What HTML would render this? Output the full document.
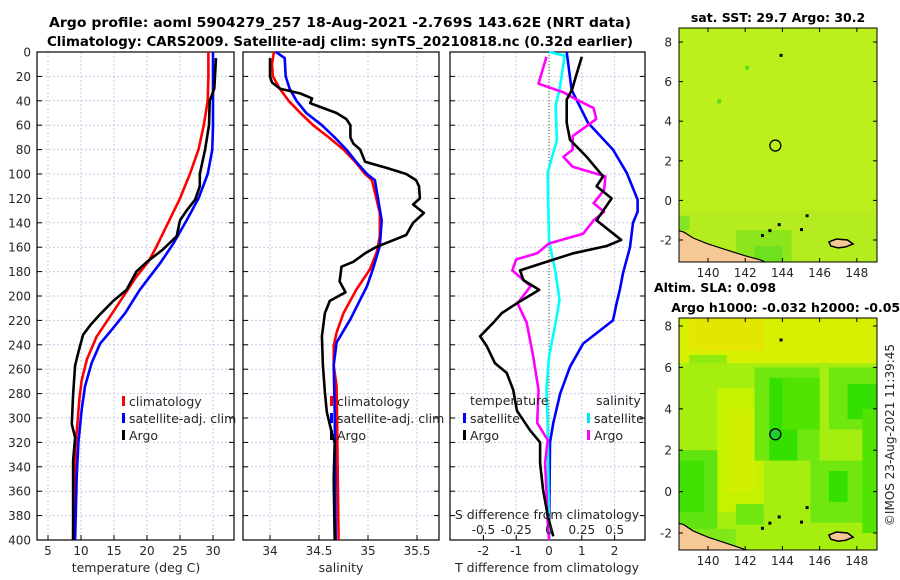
<!DOCTYPE html>
<html><head><meta charset="utf-8"><style>
html,body{margin:0;padding:0;background:#fff;}
svg{display:block;font-family:"DejaVu Sans","Liberation Sans",sans-serif;}
</style></head><body>
<svg id="fig" width="900" height="580" viewBox="0 0 900 580" xmlns="http://www.w3.org/2000/svg">
<g font-weight="bold" font-size="13" fill="#000" text-anchor="middle">
<text x="340" y="27" textLength="582" lengthAdjust="spacingAndGlyphs">Argo profile: aoml 5904279_257 18-Aug-2021 -2.769S 143.62E (NRT data)</text>
<text x="340" y="46" textLength="586" lengthAdjust="spacingAndGlyphs">Climatology: CARS2009. Satellite-adj clim: synTS_20210818.nc (0.32d earlier)</text>
</g>
<g id="panels"></g>
<g id="maps"></g>
<text x="894" y="435" transform="rotate(-90 894 435)" text-anchor="middle" font-size="12" fill="#262626">©IMOS 23-Aug-2021 11:39:45</text>
</svg>
<script>
// ---------- data ----------
const depthTicks = [0,20,40,60,80,100,120,140,160,180,200,220,240,260,280,300,320,340,360,380,400];
const tempTicks = [5,10,15,20,25,30];
const salTicks = [34,34.5,35,35.5];
const salTickLabels = ["34","34.5","35","35.5"];
const tdiffTicks = [-2,-1,0,1,2];
const sdiffTicks = [-0.5,-0.25,0,0.25,0.5];
const sdiffTickLabels = ["-0.5","-0.25","0","0.25","0.5"];

const tClimDepth = [0,20,40,60,80,100,120,140,160,172,184,198,217,233,252,269,285,302,321,351,400];
const tClim = [29.3,29.3,29.2,28.6,27.8,26.5,25.0,23.2,21.4,20.2,18.4,16.7,14.4,12.4,10.9,10.1,9.75,9.5,9.2,9.0,8.8];
const tSatDepth = [0,20,40,60,80,100,120,138,157,173,195,214,228,239,255,274,293,320,348,400];
const tSat = [30.0,30.0,30.0,30.0,29.9,29.2,27.8,26.0,24.0,22.0,18.9,16.7,14.6,12.9,11.6,10.6,10.1,9.6,9.35,9.1];
const tArgoDepth = [5,30,40,60,80,100,110,121,130,138,151,162,172,180,195,204,215,224,232,246,257,281,305,316,335,400];
const tArgo = [30.45,30.2,29.5,29.4,28.8,28.0,28.0,27.3,26.0,25.0,24.5,22.4,20.0,18.4,16.9,14.9,12.9,11.4,10.3,9.6,9.1,8.8,8.6,9.1,8.8,8.8];

const sClimDepth = [0,10,20,30,40,50,60,70,80,90,100,105,132,151,164,178,195,214,230,241,257,274,400];
const sClim = [34.04,34.02,34.03,34.1,34.19,34.31,34.44,34.6,34.75,34.87,34.97,35.04,35.12,35.12,35.09,35.02,34.88,34.75,34.68,34.65,34.65,34.68,34.70];
const sSatDepth = [0,5,20,30,40,50,60,70,80,90,100,105,138,159,178,192,219,238,257,295,400];
const sSat = [34.06,34.15,34.16,34.2,34.27,34.37,34.53,34.66,34.78,34.88,34.99,35.07,35.14,35.12,35.05,34.99,34.82,34.68,34.65,34.66,34.67];
const sArgoDepth = [5,20,25,30,34,38,42,45,50,55,60,70,75,80,90,95,100,105,110,120,125,132,140,150,160,165,172,176,188,197,204,214,233,257,279,295,312,320,350,400];
const sArgo = [34.0,34.0,34.02,34.1,34.31,34.43,34.41,34.51,34.68,34.78,34.82,34.82,34.85,34.92,34.97,35.19,35.39,35.49,35.52,35.53,35.46,35.57,35.46,35.39,35.08,34.97,34.85,34.73,34.71,34.77,34.61,34.56,34.53,34.54,34.56,34.58,34.63,34.66,34.65,34.66];

const dTSatDepth = [0,31,58,80,99,121,131,140,160,181,195,206,220,239,258,280,304,320,400];
const dTSat = [0.54,0.69,1.19,1.95,2.37,2.7,2.7,2.56,2.47,2.26,2.16,2.06,1.95,1.04,0.64,0.34,0.13,0.03,0.0];
const dTArgoDepth = [4,18,31,39,58,72,86,102,110,120,138,154,159,165,172,179,187,195,206,214,222,233,241,255,263,277,294,310,320,337,359,381,397];
const dTArgo = [1.0,0.84,0.7,0.54,0.54,0.64,1.15,1.65,1.45,1.91,1.45,2.2,1.76,0.74,-0.07,-0.88,-0.78,-0.3,-0.98,-1.44,-1.7,-2.1,-1.9,-1.65,-1.29,-1.09,-0.98,-0.58,-0.27,-0.27,-0.18,-0.03,0.13];
const dSSatDepth = [0,3,31,44,72,99,154,181,203,222,250,277,304,400];
const dSSat = [0.0,0.12,0.08,0.05,0.06,-0.01,0.0,0.05,0.08,0.05,0.0,-0.02,-0.01,0.0];
const dSArgoDepth = [4,26,33,39,46,55,69,80,86,94,102,113,124,131,138,149,157,165,170,179,192,206,222,250,277,304,318,337,359,386,400];
const dSArgo = [-0.02,-0.08,0.11,0.21,0.34,0.36,0.18,0.18,0.11,0.18,0.43,0.42,0.34,0.42,0.34,0.26,0.0,-0.09,-0.25,-0.28,-0.14,-0.24,-0.17,-0.12,-0.08,-0.09,-0.01,-0.03,-0.02,-0.01,0.0];

const mapLonTicks = [140,142,144,146,148];
const mapLatTicks = [-2,0,2,4,6,8];
const argoLon = 143.62, argoLat = 2.77;

// ---------- helpers ----------
const NS = "http://www.w3.org/2000/svg";
function mk(tag, attrs, parent){ const e=document.createElementNS(NS,tag); for(const k in attrs) e.setAttribute(k,attrs[k]); if(parent) parent.appendChild(e); return e; }
const Y0=52, YPX=1.22, YB=540;
const yOf = d => Y0 + d*YPX;
const panels = document.getElementById('panels');

function drawAxes(g, x0, x1, ticksX, xOf, labels, showY){
  const grid = mk('g',{},g);
  
  
  ticksX.forEach(v=>{ const x=xOf(v); mk('line',{x1:x,x2:x,y1:Y0,y2:YB,stroke:'#c6cbe6','stroke-width':1,'stroke-dasharray':'2,2'},grid); });
  depthTicks.forEach(d=>{ if(d===0||d===400) return; const y=yOf(d); mk('line',{x1:x0,x2:x1,y1:y,y2:y,stroke:'#c6cbe6','stroke-width':1,'stroke-dasharray':'2,2'},grid); });
  depthTicks.forEach(d=>{ const y=yOf(d);
    mk('line',{x1:x0,x2:x0+5,y1:y,y2:y,stroke:'#000'},g); mk('line',{x1:x1-5,x2:x1,y1:y,y2:y,stroke:'#000'},g);
    if(showY){ const t=mk('text',{x:x0-6,y:y+4.5,'text-anchor':'end','font-size':12,fill:'#262626'},g); t.textContent=d;
        }
  });
  ticksX.forEach((v,i)=>{ const x=xOf(v); mk('line',{x1:x,x2:x,y1:YB,y2:YB-5,stroke:'#000'},g);
    if(labels){ const t=mk('text',{x:x,y:555,'text-anchor':'middle','font-size':12,fill:'#262626'},g); t.textContent=labels[i];
        }
  });
  const r=mk('rect',{x:x0,y:Y0,width:x1-x0,height:YB-Y0,fill:'none',stroke:'#000','stroke-width':1.2},g);
   
}
function line(g, xs, ds, xOf, color, name){
  const pts = xs.map((v,i)=>xOf(v).toFixed(1)+','+yOf(ds[i]).toFixed(1)).join(' ');
  const p = mk('polyline',{points:pts,fill:'none',stroke:color,'stroke-width':2.6,'stroke-linejoin':'round'},g);
  
  
}
function legendEntry(g,x,y,color,label,name){
  const e=mk('g',{},g);
  
  
  mk('rect',{x:x,y:y-9,width:3,height:10,fill:color},e);
  const t=mk('text',{x:x+7,y:y+1,'font-size':12.5,fill:'#262626'},e); t.textContent=label;
}
function xTitle(g,x,text){ const t=mk('text',{x:x,y:572,'text-anchor':'middle','font-size':12.5,fill:'#262626'},g); t.textContent=text;
    }

// Panel 1: temperature
const g1 = mk('g',{},panels);


const xT = v => 48 + (v-5)*6.6;
drawAxes(g1,37,234,tempTicks,xT,tempTicks.map(String),true);
line(g1,tClim,tClimDepth,xT,'#ff0000','temperature-climatology-line');
line(g1,tSat,tSatDepth,xT,'#0000ff','temperature-satellite-line');
line(g1,tArgo,tArgoDepth,xT,'#000000','temperature-argo-line');
legendEntry(g1,122,405,'#ff0000','climatology','legend-climatology');
legendEntry(g1,122,422,'#0000ff','satellite-adj. clim','legend-satellite-adj');
legendEntry(g1,122,439,'#000000','Argo','legend-argo');
xTitle(g1,136,'temperature (deg C)');

// Panel 2: salinity
const g2 = mk('g',{},panels);


const xS = v => 270 + (v-34)*98;
drawAxes(g2,243,439,salTicks,xS,salTickLabels,false);
line(g2,sClim,sClimDepth,xS,'#ff0000','salinity-climatology-line');
line(g2,sSat,sSatDepth,xS,'#0000ff','salinity-satellite-line');
line(g2,sArgo,sArgoDepth,xS,'#000000','salinity-argo-line');
legendEntry(g2,330,405,'#ff0000','climatology','legend-climatology');
legendEntry(g2,330,422,'#0000ff','satellite-adj. clim','legend-satellite-adj');
legendEntry(g2,330,439,'#000000','Argo','legend-argo');
xTitle(g2,341,'salinity');

// Panel 3: differences
const g3 = mk('g',{},panels);


const xD = v => 549 + v*32.8;
const xDS = v => 549 + v*4*32.8;
drawAxes(g3,450,645,tdiffTicks,xD,tdiffTicks.map(String),false);
const zl = mk('line',{x1:xD(0),x2:xD(0),y1:Y0,y2:YB,stroke:'#555533','stroke-width':1,'stroke-dasharray':'1,2'},g3);


line(g3,dTSat,dTSatDepth,xD,'#0000ff','tdiff-satellite-line');
line(g3,dSSat,dSSatDepth,xDS,'#00ffff','sdiff-satellite-line');
line(g3,dSArgo,dSArgoDepth,xDS,'#ff00ff','sdiff-argo-line');
line(g3,dTArgo,dTArgoDepth,xD,'#000000','tdiff-argo-line');
const st = mk('text',{x:547,y:519,'text-anchor':'middle','font-size':12.5,fill:'#262626'},g3); st.textContent='S difference from climatology';


sdiffTicks.forEach((v,i)=>{ const t=mk('text',{x:xDS(v),y:534,'text-anchor':'middle','font-size':12,fill:'#262626'},g3); t.textContent=sdiffTickLabels[i];
    });
const lt = mk('text',{x:470,y:405,'font-size':12.5,fill:'#262626'},g3); lt.textContent='temperature';


legendEntry(g3,463,422,'#0000ff','satellite','legend-t-satellite');
legendEntry(g3,463,439,'#000000','Argo','legend-t-argo');
const ls = mk('text',{x:596,y:405,'font-size':12.5,fill:'#262626'},g3); ls.textContent='salinity';


legendEntry(g3,587,422,'#00e5ee','satellite','legend-s-satellite');
legendEntry(g3,587,439,'#ff00ff','Argo','legend-s-argo');
xTitle(g3,547,'T difference from climatology');

// ---------- maps ----------
const maps = document.getElementById('maps');
function drawMap(name, top, bottom, lat8y, latPx, titleLines, cells, base, markerFill){
  const g = mk('g',{},maps);
  
  
  const L=679, R=877;
  const xL = lon => L + (lon-138.44)*18.6;
  const yL = lat => lat8y + (8-lat)*latPx;
  const cid = name+'-clip';
  const cp = mk('clipPath',{id:cid},g); mk('rect',{x:L,y:top,width:R-L,height:bottom-top},cp);
  const inner = mk('g',{'clip-path':'url(#'+cid+')'},g);
  mk('rect',{x:L,y:top,width:R-L,height:bottom-top,fill:base},inner);
  cells.forEach(c=>{ mk('rect',{x:xL(c[0]),y:yL(c[3]),width:xL(c[1])-xL(c[0]),height:yL(c[2])-yL(c[3]),fill:c[4]},inner); });
  const land = [[138.3,-1.5],[138.7,-1.6],[139.2,-1.9],[140,-2.2],[141,-2.5],[142,-2.8],[142.8,-3.0],[143.5,-3.3],[143.5,-4],[138.3,-4]];
  const lp = mk('polygon',{points:land.map(p=>xL(p[0])+','+yL(p[1])).join(' '),fill:'#f6c896',stroke:'#000','stroke-width':1.2},inner);
  
  
  const isl = [[146.5,-2.1],[146.9,-1.95],[147.5,-2.0],[147.8,-2.2],[147.4,-2.35],[147.0,-2.4],[146.6,-2.3]];
  const ip = mk('polygon',{points:isl.map(p=>xL(p[0])+','+yL(p[1])).join(' '),fill:'#f6c896',stroke:'#000','stroke-width':1.5},inner);
  
  
  [[143.9,7.35],[142.9,-1.75],[143.3,-1.5],[143.8,-1.2],[145.0,-1.45],[145.3,-0.75]].forEach(p=>mk('rect',{x:xL(p[0])-1,y:yL(p[1])-1,width:3,height:3,fill:'#000'},inner));
  const m = mk('circle',{cx:xL(argoLon),cy:yL(argoLat),r:5.5,fill:markerFill,stroke:'#000','stroke-width':1.3},g);
  
  
  mk('rect',{x:L,y:top,width:R-L,height:bottom-top,fill:'none',stroke:'#000','stroke-width':1},g);
  mapLonTicks.forEach(v=>{ const x=xL(v); mk('line',{x1:x,x2:x,y1:bottom,y2:bottom-4,stroke:'#000'},g); mk('line',{x1:x,x2:x,y1:top,y2:top+4,stroke:'#000'},g);
    const t=mk('text',{x:x,y:bottom+15,'text-anchor':'middle','font-size':12,fill:'#262626'},g); t.textContent=v;
      });
  mapLatTicks.forEach(v=>{ const y=yL(v); mk('line',{x1:L,x2:L+4,y1:y,y2:y,stroke:'#000'},g); mk('line',{x1:R-4,x2:R,y1:y,y2:y,stroke:'#000'},g);
    const t=mk('text',{x:L-7,y:y+4.5,'text-anchor':'end','font-size':12,fill:'#262626'},g); t.textContent=v;
      });
  titleLines.forEach((tl,i)=>{ const t=mk('text',{x:tl[1],y:tl[2],'text-anchor':'middle','font-size':12.5,'font-weight':'bold',fill:'#000'},g); t.textContent=tl[0];
      });
}
drawMap('sst-map',28,262,42,19.8,[['sat. SST: 29.7  Argo: 30.2',778,22]],
  [[138.44,149.2,-4,-0.5,'#b4ec20'],[141.5,144.5,-4,-1.5,'#8ce61c'],[142.5,144,-4,-2.3,'#6ee020'],[142,142.2,6.6,6.8,'#50dc20'],[140.5,140.7,4.9,5.1,'#50dc20'],[138.44,139,-1.5,-0.8,'#80e420']],
  '#bcf01c','none');
drawMap('sla-map',318,550,326,20.7,[['Altim. SLA: 0.098',715,292],['Argo h1000: -0.032 h2000: -0.051',790,312]],
  [[138.44,149.2,6.2,9,'#d6f000'],[139,143,6.8,9,'#e2e600'],[138.44,149.2,-4,6.2,'#a6ee10'],
   [140.5,143,-1,5,'#c4f200'],[141,142.5,0,4,'#d0f000'],
   [142.5,146,1.5,6,'#70e810'],[143.3,144.8,1.5,5.5,'#34e000'],[144,146,3,5.5,'#50e400'],
   [146.5,149.2,3,6,'#70e810'],[147.5,149.2,3.5,5.2,'#34e000'],
   [138.44,140.5,-2,2,'#60e410'],[138.44,139.8,-1,1.5,'#40e000'],
   [145.5,148.5,-1.5,1.5,'#70e810'],[146.5,147.5,-0.5,1,'#34e000'],[148.3,149.2,-2,4,'#50e400'],
   [141.5,143,-1.6,-0.6,'#70e810'],[143.5,146,-3,-1.8,'#a6ee10'],[139,141.5,-3,-1.8,'#80e818'],[139,141,6.2,6.6,'#90ea10']],
  '#a6ee10','#22cc33');
</script>
</body></html>
